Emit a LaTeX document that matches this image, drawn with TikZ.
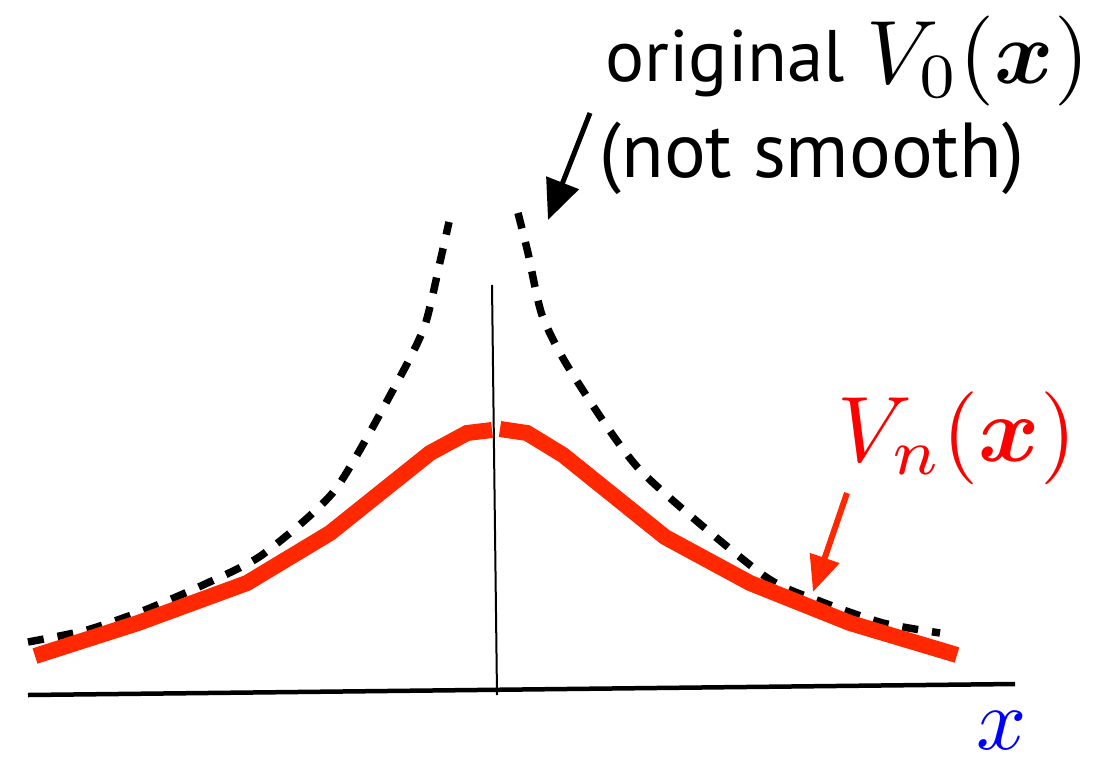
\documentclass[tikz,border=0pt]{standalone}
\usepackage{amsmath}
\usepackage{fontspec}
\setmainfont{PT Sans}
\usetikzlibrary{arrows.meta}
\definecolor{redc}{RGB}{255,40,0}
\definecolor{redt}{RGB}{255,0,0}
\definecolor{bluec}{RGB}{0,0,255}
\tikzset{
  axisline/.style={line width=4.5pt,black},
  vline/.style={line width=2pt,black},
  redcurve/.style={line width=16pt,redc},
  dashcurve/.style={line width=7.5pt,black,dash pattern=on 16pt off 14pt},
  blackarrow/.style={line width=5pt,black,-{Triangle[length=40pt,width=34pt]}},
  redarrow/.style={line width=6pt,redc,-{Triangle[length=36pt,width=30pt]}},
  sanslabel/.style={inner sep=0pt,anchor=base west,scale=7.8},
  mathlabel/.style={inner sep=0pt,anchor=base west,scale=9.1},
}
\begin{document}
\begin{tikzpicture}[x=1pt,y=-1pt]
\useasboundingbox (0,0) rectangle (1118,757);
% axes
\coordinate (ax0) at (28,695);
\coordinate (ax1) at (1015,684);
\draw[axisline] (ax0) -- (ax1);
\coordinate (v0) at (492,285);
\coordinate (v1) at (497,695);
\draw[vline] (v0) -- (v1);
% dashed original curve
\draw[dashcurve] plot[smooth,tension=0.4] coordinates {(28,642) (87,630) (145,610) (203,585) (262,555) (335,490) (400,377) (425,325) (440,262) (449,222)};
\draw[dashcurve] plot[smooth,tension=0.4] coordinates {(518,213) (528,253) (542,315) (570,370) (640,470) (763,575) (822,602) (883,623) (940,633)};
% red smoothed curve
\draw[redcurve] (35,656) -- (138,623) -- (247,583) -- (330,533) -- (430,453) -- (467,433) -- (492,430);
\draw[redcurve] (500,429) -- (527,433) -- (563,455) -- (665,537) -- (750,583) -- (850,623) -- (957,655);
% labels
\node[sanslabel,scale=7.3/7.8] (orig) at (604,82) {original};
\node[mathlabel,scale=9.0/9.1] (v0lab) at (865,84) {$V_0(\boldsymbol{x})$};
\node[sanslabel] (notsm) at (598,177) {(not smooth)};
\node[mathlabel,scale=9.3/9.1,text=redt] (vnlab) at (836,461) {$V_n(\boldsymbol{x})$};
\node[inner sep=0pt,scale=8.8,text=bluec] (xlab) at (1002,731) {$x$};
% arrows
\coordinate (ba0) at (590,113);
\coordinate (ba1) at (548,220);
\draw[blackarrow] (ba0) -- (ba1);
\coordinate (ra0) at (847,493);
\coordinate (ra1) at (813,592);
\draw[redarrow] (ra0) -- (ra1);
\end{tikzpicture}
\end{document}
